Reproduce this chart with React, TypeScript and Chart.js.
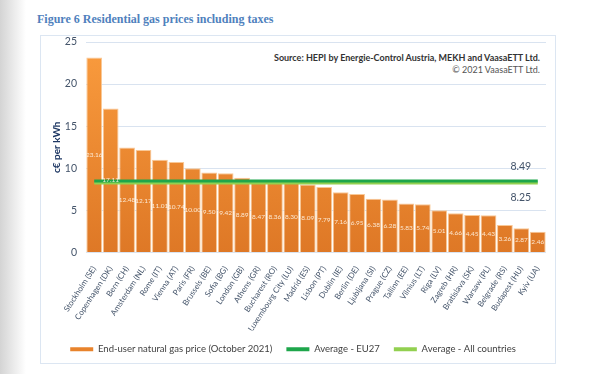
import React, { useEffect, useRef } from "react";
import { Chart, registerables } from "chart.js";

Chart.register(...registerables);

const categories = [
  "Stockholm (SE)", "Copenhagen (DK)", "Bern (CH)", "Amsterdam (NL)", "Rome (IT)",
  "Vienna (AT)", "Paris (FR)", "Brussels (BE)", "Sofia (BG)", "London (GB)",
  "Athens (GR)", "Bucharest (RO)", "Luxembourg City (LU)", "Madrid (ES)", "Lisbon (PT)",
  "Dublin (IE)", "Berlin (DE)", "Ljubljana (SI)", "Prague (CZ)", "Tallinn (EE)",
  "Vilnius (LT)", "Riga (LV)", "Zagreb (HR)", "Bratislava (SK)", "Warsaw (PL)",
  "Belgrade (RS)", "Budapest (HU)", "Kyiv (UA)",
];

const prices = [
  23.16, 17.11, 12.48, 12.17, 11.01, 10.74, 10.0, 9.5, 9.42, 8.89,
  8.47, 8.36, 8.3, 8.09, 7.79, 7.16, 6.95, 6.38, 6.28, 5.83,
  5.74, 5.01, 4.66, 4.45, 4.43, 3.26, 2.87, 2.46,
];

const avgEU27 = 8.49;
const avgAll = 8.25;

const yTicks = [0, 5, 10, 15, 20, 25];

const FONT = "Lato";

const labelsPlugin = {
  id: "barLabels",
  afterDatasetsDraw(chart: any) {
    const ctx = chart.ctx;
    const meta = chart.getDatasetMeta(0);
    ctx.save();
    ctx.font = `6.5px ${FONT}`;
    ctx.fillStyle = "rgba(255,244,228,0.9)";
    ctx.textAlign = "center";
    ctx.textBaseline = "middle";
    meta.data.forEach((bar: any, i: number) => {
      ctx.fillText(prices[i].toFixed(2), bar.x, (bar.y + bar.base) / 2);
    });
    const ys = chart.scales.y;
    const xs = chart.scales.x;
    const lx = xs.getPixelForValue(categories.length - 1) - 17;
    ctx.font = `10.5px ${FONT}`;
    ctx.fillStyle = "#44546a";
    ctx.fillText(avgEU27.toFixed(2), lx, ys.getPixelForValue(avgEU27) - 14);
    ctx.fillText(avgAll.toFixed(2), lx, ys.getPixelForValue(avgAll) + 15);
    ctx.restore();
  },
};

export default function App() {
  const ref = useRef<HTMLCanvasElement | null>(null);

  useEffect(() => {
    if (!ref.current) return;
    const chart = new Chart(ref.current, {
      type: "bar",
      data: {
        labels: categories,
        datasets: [
          {
            type: "bar",
            label: "End-user natural gas price (October 2021)",
            data: prices,
            order: 3,
            backgroundColor: (c: any) => {
              const area = c.chart.chartArea;
              if (!area) return "#f08a30";
              const g = c.chart.ctx.createLinearGradient(0, area.top, 0, area.bottom);
              g.addColorStop(0, "#fa9c3e");
              g.addColorStop(1, "#de7826");
              return g;
            },
            borderColor: "#f9c896",
            borderWidth: 1,
            categoryPercentage: 1,
            barPercentage: 0.96,
          } as any,
          {
            type: "line",
            label: "Average - EU27",
            data: [
              { x: categories[0], y: avgEU27 },
              { x: categories[categories.length - 1], y: avgEU27 },
            ],
            borderColor: "#1ea64b",
            backgroundColor: "#1ea64b",
            borderWidth: 3,
            pointRadius: 0,
            order: 1,
          } as any,
          {
            type: "line",
            label: "Average - All countries",
            data: [
              { x: categories[0], y: avgAll },
              { x: categories[categories.length - 1], y: avgAll },
            ],
            borderColor: "#92d050",
            backgroundColor: "#92d050",
            borderWidth: 3,
            pointRadius: 0,
            order: 2,
          } as any,
        ],
      },
      options: {
        animation: false,
        responsive: false,
        events: [],
        layout: { padding: { left: 40, right: 46, top: 42, bottom: 10 } },
        scales: {
          x: {
            grid: { display: false },
            border: { display: false },
            ticks: {
              autoSkip: false,
              minRotation: 57,
              maxRotation: 57,
              padding: 4,
              color: "#44546a",
              font: { family: FONT, size: 8 },
            },
            afterFit: (s: any) => {
              s.height = 78;
            },
          },
          y: {
            min: 0,
            max: 25,
            afterBuildTicks: (s: any) => {
              s.ticks = yTicks.map((v) => ({ value: v }));
            },
            grid: { color: "#d9e3f0", drawTicks: false, lineWidth: 1 },
            border: { display: false },
            ticks: {
              padding: 9,
              color: "#44546a",
              font: { family: FONT, size: 10.5 },
            },
            title: {
              display: true,
              text: "c€ per kWh",
              color: "#1f3864",
              font: { family: FONT, size: 10, weight: "bold" },
              padding: { top: 11, bottom: 0 },
            },
            afterFit: (s: any) => {
              s.width = 46;
            },
          },
        },
        plugins: {
          legend: {
            position: "bottom",
            labels: {
              boxWidth: 23,
              boxHeight: 4,
              padding: 14,
              color: "#404040",
              font: { family: FONT, size: 9.5 },
              sort: (a: any, b: any) => a.datasetIndex - b.datasetIndex,
              generateLabels: (ch: any) => {
                const items = Chart.defaults.plugins.legend.labels.generateLabels(ch);
                return items.map((it: any) => ({
                  ...it,
                  fillStyle: it.datasetIndex === 0 ? "#e8832c" : it.fillStyle,
                  strokeStyle: "rgba(0,0,0,0)",
                  lineWidth: 0,
                }));
              },
            },
          },
          tooltip: { enabled: false },
        },
      },
      plugins: [labelsPlugin],
    } as any);
    return () => chart.destroy();
  }, []);

  return (
    <div style={{ position: "absolute", left: 0, top: 0, width: 592, height: 374, background: "#fff", overflow: "hidden" }}>
      <div style={{ position: "absolute", left: 0, top: 0, width: 26, height: 374, background: "linear-gradient(to right, #d4d4d4, #ffffff)" }} />
      <div
        style={{
          position: "absolute", left: 37, top: 12, fontFamily: "Liberation Serif", fontWeight: "bold",
          fontSize: 12, color: "#4f81bd", whiteSpace: "nowrap",
        }}
      >
        Figure 6 Residential gas prices including taxes
      </div>
      <div style={{ position: "absolute", left: 40, top: 35, width: 514, height: 327, border: "1px solid #dce6f2" }} />
      <div
        style={{
          position: "absolute", right: 52, top: 52, textAlign: "right", fontFamily: FONT,
          fontSize: 9, lineHeight: "12px", color: "#333", whiteSpace: "nowrap",
        }}
      >
        <div style={{ fontWeight: "bold" }}>Source: HEPI by Energie-Control Austria, MEKH and VaasaETT Ltd.</div>
        <div style={{ color: "#555" }}>© 2021 VaasaETT Ltd.</div>
      </div>
      <canvas ref={ref} width={592} height={374} style={{ position: "absolute", left: 0, top: 0, width: 592, height: 374 }} />
    </div>
  );
}
